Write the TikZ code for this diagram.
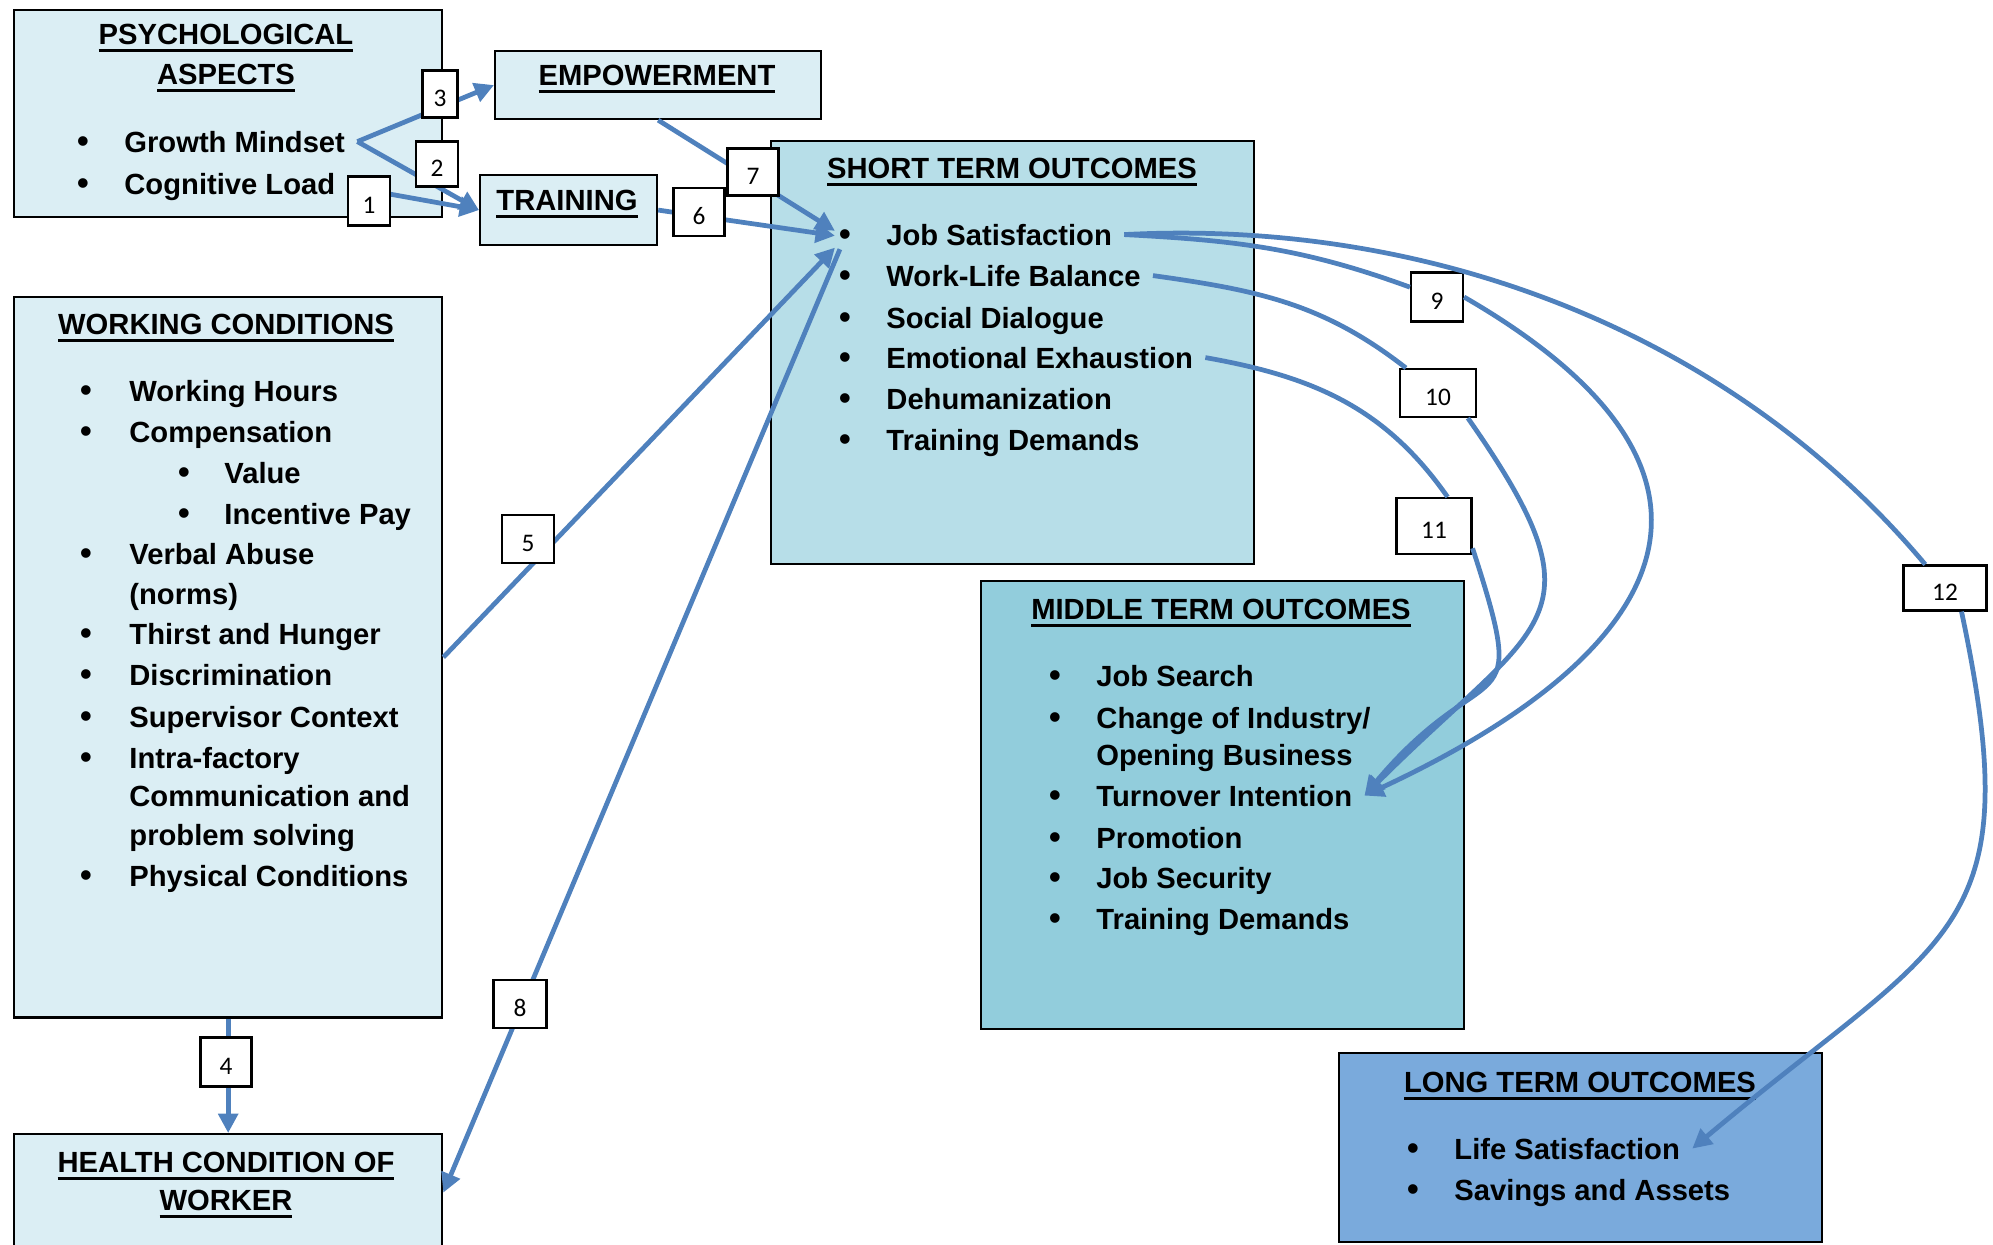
\documentclass[tikz,border=0pt]{standalone}
\usepackage{fontspec}
\setmainfont{Liberation Sans}
\newfontfamily\numfont{Carlito}
\usetikzlibrary{arrows.meta}

\definecolor{BoxPale}{RGB}{219,238,244}
\definecolor{BoxShort}{RGB}{183,222,232}
\definecolor{BoxMid}{RGB}{146,205,220}
\definecolor{BoxLong}{RGB}{122,170,220}
\definecolor{LinkBlue}{RGB}{79,129,189}

% underlined heading text
\newcommand\uln[1]{\setbox0\hbox{#1}\rlap{\rule[-2.2pt]{\wd0}{.75pt}}\box0}

\begin{document}
\begin{tikzpicture}[x=.01cm,y=-.01cm,every node/.style={font=\fontsize{8.3}{10}\selectfont\bfseries},
  box/.style={draw=black,line width=.6pt,anchor=north west,inner sep=0pt},
  hd/.style={anchor=base},
  it/.style={anchor=base west},
  dot/.style={anchor=base,inner sep=1pt,font=\fontsize{9.5}{10}\selectfont\bfseries},
  num/.style={draw=black,fill=white,line width=.6pt,inner sep=0pt,minimum width=.51cm,minimum height=.48cm,text height=7pt,text depth=0pt,font=\numfont\fontsize{7.2}{9}\selectfont},
  lnk/.style={LinkBlue,line width=1.35pt},
  arr/.style={lnk,-{Triangle[length=5.5pt,width=5.5pt]}}]
\useasboundingbox(0,0)rectangle(1993,1244);

% boxes
\node[box,fill=BoxPale,minimum width=4.28cm,minimum height=2.07cm](psy)at(13,9){};
\node[box,fill=BoxPale,minimum width=3.26cm,minimum height=.68cm](emp)at(494,50){};
\node[box,fill=BoxPale,minimum width=1.77cm,minimum height=.70cm](trn)at(479,174){};
\node[box,fill=BoxShort,minimum width=4.83cm,minimum height=4.23cm](sto)at(770,140){};
\node[box,fill=BoxPale,minimum width=4.28cm,minimum height=7.20cm](wc)at(13,296){};
\node[box,fill=BoxPale,minimum width=4.28cm,minimum height=1.17cm](hlt)at(13,1133){};
\node[box,fill=BoxMid,minimum width=4.83cm,minimum height=4.48cm](mto)at(980,580){};
\node[box,fill=BoxLong,minimum width=4.83cm,minimum height=1.89cm](lto)at(1338,1052){};

% psychological aspects
\node[hd](psy-t1)at(226,44){\uln{PSYCHOLOGICAL}};
\node[hd](psy-t2)at(226,84){\uln{ASPECTS}};
\node[dot](gm-d)at(83,152){•};\node[it](gm)at(112,152){Growth Mindset};
\node[dot](cl-d)at(83,194){•};\node[it](cl)at(112,194){Cognitive Load};

\node[hd](emp-t)at(657,85){\uln{EMPOWERMENT}};
\node[hd](trn-t)at(567,210){\uln{TRAINING}};

% short term
\node[hd](sto-t)at(1012,178){\uln{SHORT TERM OUTCOMES}};
\node[dot](js-d)at(845,245){•};\node[it](js)at(874,245){Job Satisfaction};
\node[dot](wlb-d)at(845,286){•};\node[it](wlb)at(874,286){Work-Life Balance};
\node[dot](sd-d)at(845,328){•};\node[it](sd)at(874,328){Social Dialogue};
\node[dot](ee-d)at(845,368){•};\node[it](ee)at(874,368){Emotional Exhaustion};
\node[dot](dh-d)at(845,409){•};\node[it](dh)at(874,409){Dehumanization};
\node[dot](td-d)at(845,450){•};\node[it](td)at(874,450){Training Demands};

% working conditions
\node[hd](wc-t)at(226,334){\uln{WORKING CONDITIONS}};
\node[dot](wh-d)at(86,401){•};\node[it](wh)at(117,401){Working Hours};
\node[dot](cp-d)at(86,442){•};\node[it](cp)at(117,442){Compensation};
\node[dot](va-d)at(184,483){•};\node[it](va)at(212,483){Value};
\node[dot](ip-d)at(184,524){•};\node[it](ip)at(212,524){Incentive Pay};
\node[dot](vb-d)at(86,564){•};\node[it](vb)at(117,564){Verbal Abuse};
\node[it](vb2)at(117,604){(norms)};
\node[dot](th-d)at(86,644){•};\node[it](th)at(117,644){Thirst and Hunger};
\node[dot](ds-d)at(86,685){•};\node[it](ds)at(117,685){Discrimination};
\node[dot](sc-d)at(86,727){•};\node[it](sc)at(117,727){Supervisor Context};
\node[dot](if-d)at(86,768){•};\node[it](if)at(117,768){Intra-factory};
\node[it](if2)at(117,806){Communication and};
\node[it](if3)at(117,845){problem solving};
\node[dot](pc-d)at(86,886){•};\node[it](pc)at(117,886){Physical Conditions};

% health
\node[hd](hlt-t1)at(226,1172){\uln{HEALTH CONDITION OF}};
\node[hd](hlt-t2)at(226,1210){\uln{WORKER}};

% middle term
\node[hd](mto-t)at(1221,619){\uln{MIDDLE TERM OUTCOMES}};
\node[dot](jsr-d)at(1055,686){•};\node[it](jsr)at(1084,686){Job Search};
\node[dot](ci-d)at(1055,728){•};\node[it](ci)at(1084,728){Change of Industry/};
\node[it](ci2)at(1084,765){Opening Business};
\node[dot](ti-d)at(1055,806){•};\node[it](ti)at(1084,806){Turnover Intention};
\node[dot](pr-d)at(1055,848){•};\node[it](pr)at(1084,848){Promotion};
\node[dot](jsc-d)at(1055,888){•};\node[it](jsc)at(1084,888){Job Security};
\node[dot](mtd-d)at(1055,929){•};\node[it](mtd)at(1084,929){Training Demands};

% long term
\node[hd](lto-t)at(1580,1092){\uln{LONG TERM OUTCOMES}};
\node[dot](ls-d)at(1413,1159){•};\node[it](ls)at(1442,1159){Life Satisfaction};
\node[dot](sa-d)at(1413,1200){•};\node[it](sa)at(1442,1200){Savings and Assets};

% straight links
\draw[arr](cl.east)--(trn.west);
\draw[arr](gm.east)--(trn.west);
\draw[arr](gm.east)--(emp.west);
\draw[arr](wc.south)--(hlt.north);
\draw[arr](wc.east)--(js-d);
\draw[arr](trn.east)--(js-d);
\draw[arr](emp.south)--(js-d);
\draw[arr](js-d)--(hlt.east);

% numbered tags
\node[num,minimum width=.42cm,minimum height=.49cm](n1)at(369,201){1};
\node[num,minimum width=.42cm,minimum height=.45cm](n2)at(437,164){2};
\node[num,minimum width=.35cm,minimum height=.47cm](n3)at(440,94){3};
\node[num,minimum height=.49cm](n4)at(226,1062){4};
\node[num,minimum width=.52cm](n5)at(528,539){5};
\node[num](n6)at(699,212){6};
\node[num,minimum height=.47cm](n7)at(753,172){7};
\node[num,minimum width=.53cm](n8)at(520,1004){8};
\node[num,minimum width=.52cm,minimum height=.49cm](n9)at(1437,297){9};
\node[num,minimum width=.76cm](n10)at(1438,393){10};
\node[num,minimum width=.75cm,minimum height=.56cm](n11)at(1434,526){11};
\node[num,minimum width=.83cm,minimum height=.45cm](n12)at(1945,588){12};

% curved links
\draw[lnk](js.east)to[out=-3,in=160](n9);
\draw[arr](n9.east)to[out=-30,in=25,looseness=1.75](ti.east);
\draw[lnk](wlb.east)to[out=-8,in=142](n10);
\draw[arr](n10.-40)to[out=-55,in=45,looseness=1.62](ti.east);
\draw[lnk](ee.east)to[out=-10,in=125](n11.65);
\draw[arr](n11.-30)to[out=-72,in=50,looseness=1.82](ti.east);
\draw[lnk](js.east)to[out=3,in=130,looseness=.9](n12);
\draw[arr](n12.-55)to[out=-78,in=40,looseness=1.42](ls.east);
\end{tikzpicture}
\end{document}
